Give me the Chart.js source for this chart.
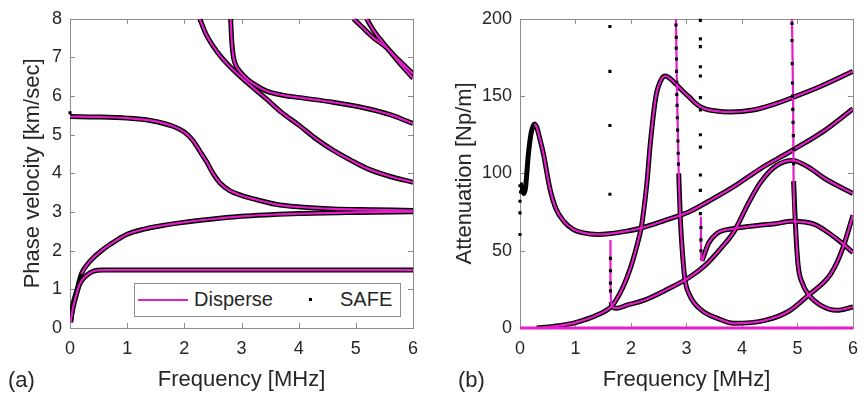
<!DOCTYPE html>
<html>
<head>
<meta charset="utf-8">
<script src="https://cdn.jsdelivr.net/npm/chart.js@4.4.1/dist/chart.umd.min.js"></script>
<style>
  body { margin: 0; background: #fff; width: 868px; height: 397px; position: relative; overflow: hidden;
         font-family: 'Liberation Sans', Arial, sans-serif; color: #262626; }
  canvas { position: absolute; top: 0; }
  #chartA { left: 0; }
  #chartB { left: 434px; }
  .tag { position: absolute; top: 367px; font-size: 22px; line-height: 26px; z-index: 2; }
  #legendA { position: absolute; left: 134px; top: 283px; width: 265px; height: 32px;
             border: 1px solid #8c8c8c; background: #fff; z-index: 2; }
  #legendA span { position: absolute; }
  .lg-text { font-size: 20px; line-height: 24px; top: 3px; }
</style>
</head>
<body>
<canvas id="chartA" width="434" height="397"></canvas>
<canvas id="chartB" width="434" height="397"></canvas>
<div class="tag" style="left:8px">(a)</div>
<div class="tag" style="left:458px">(b)</div>
<div id="legendA">
  <span style="left:3px; top:15px; width:50px; height:2px; background:#e41ec8;"></span>
  <span class="lg-text" style="left:59px;">Disperse</span>
  <span style="left:174px; top:14px; width:3px; height:3px; background:#000;"></span>
  <span class="lg-text" style="left:205px;">SAFE</span>
</div>
<script>
// ---- (a) phase velocity [km/sec] vs frequency [MHz]
const velA = [[0.01,0.15],[0.05,0.5],[0.09,0.74],[0.17,1.14],[0.29,1.36],[0.41,1.47],[0.58,1.5],[6,1.5]];
const velB = [[0.01,0.15],[0.05,0.6],[0.12,0.97],[0.2,1.4],[0.3,1.64],[0.41,1.82],[0.55,2.0],[0.7,2.16],[0.99,2.42],
              [1.3,2.56],[1.57,2.64],[1.92,2.72],[2.5,2.82],[3.0,2.89],[3.5,2.93],[4.0,2.96],[5.0,2.99],[6.0,3.01]];
const velC = [[0,5.47],[0.5,5.46],[1.0,5.43],[1.4,5.37],[1.8,5.22],[2.0,5.07],[2.15,4.85],[2.27,4.58],[2.39,4.3],
              [2.51,3.98],[2.62,3.76],[2.8,3.55],[3.0,3.43],[3.21,3.34],[3.6,3.2],[4.02,3.13],[4.6,3.08],[5.3,3.06],[6,3.04]];
const velD = [[2.27,8.0],[2.38,7.6],[2.5,7.3],[2.65,7.0],[2.8,6.76],[3.0,6.48],[3.2,6.22],[3.44,5.92],[3.7,5.58],
              [4.02,5.23],[4.3,4.9],[4.6,4.6],[4.9,4.35],[5.19,4.13],[5.6,3.92],[6,3.77]];
const velE = [[2.81,8.0],[2.83,7.4],[2.86,7.0],[2.9,6.8],[2.97,6.64],[3.1,6.44],[3.2,6.33],[3.44,6.13],[3.7,6.03],
              [4.02,5.96],[4.6,5.84],[5.19,5.68],[5.6,5.52],[6,5.29]];
const velF = [[4.96,8.0],[5.1,7.8],[5.3,7.52],[5.53,7.26],[5.75,6.93],[6,6.58]];
const velG = [[5.19,8.0],[5.3,7.72],[5.42,7.48],[5.53,7.28],[5.75,6.88],[6,6.46]];
const velDots = [[0,5.57]];

// ---- (b) attenuation [Np/m] vs frequency [MHz]
const attZero = [[0,0],[6,0]];
const att1 = [[0,94],[0.03,90],[0.07,87],[0.1,91],[0.15,112],[0.2,126],[0.26,132],[0.3,130],[0.36,122],[0.42,113],
              [0.54,90],[0.65,77],[0.79,69],[0.95,64],[1.14,61.5],[1.4,60.5],[1.6,60.9],[1.9,62.5],[2.19,64.7],
              [2.6,69.5],[3.06,75.4],[3.4,82],[3.85,91.4],[4.33,103],[4.9,114.8],[5.5,128],[6,141.8]];
const att2 = [[0.3,0],[0.6,1],[1.0,3.5],[1.4,8.5],[1.66,14.5],[1.85,26],[2.01,41],[2.12,55],[2.19,66],[2.25,82],
              [2.29,95],[2.35,120],[2.45,150],[2.55,161],[2.62,163],[2.7,161.5],[2.83,157],[2.97,152],[3.06,149],
              [3.15,145.8],[3.24,143.3],[3.35,141.6],[3.5,140.5],[3.79,139.7],[4.2,141],[4.6,145],[4.9,148.9],
              [5.4,156],[6,166]];
const att3 = [[1.63,57],[1.63,30],[1.64,17],[1.67,13.5],[1.75,12.8],[1.9,14.5],[2.24,18],[2.6,24],[3.06,33],
              [3.35,41],[3.63,52],[3.85,62],[4.12,81],[4.33,94],[4.62,105],[4.91,108.4],[5.2,104],[5.49,96.7],[6,87]];
const att4 = [[2.81,200],[2.83,150],[2.86,100],[2.89,70],[2.92,52],[2.97,32],[3.06,21],[3.27,11.5],[3.56,6.2],
              [3.85,3],[4.43,5.1],[4.85,11],[5.19,21],[5.6,35],[5.8,50],[6,73]];
const att5 = [[3.26,72],[3.26,55],[3.265,46],[3.28,43.5],[3.32,47.5],[3.4,55],[3.56,61.5],[3.8,64],[4.2,66],
              [4.6,67.5],[4.9,69],[5.31,67],[5.6,60.5],[5.8,55],[6,48.8]];
const att6 = [[4.9,200],[4.92,150],[4.93,95],[4.96,69],[5.01,41],[5.1,28],[5.19,22],[5.42,14.7],[5.71,11.5],[6,13.6]];
const attDots = [[0,82],[0,74.5],[0,60.5],[0,92],[0.01,88],
                 [1.62,195],[1.62,166],[1.62,131],[1.62,86.5],[1.63,45],[1.63,37],[1.63,29],[1.63,24],
                 [3.25,199],[3.25,187],[3.25,182],[3.25,169],[3.25,163],[3.25,149],[3.25,141],[3.25,125],
                 [3.25,117],[3.25,99],[3.25,89],[3.25,74],[3.26,65],[3.26,57],[3.26,50],
                 [2.81,196],[2.815,188],[2.815,181],[2.82,174],[2.82,166],[2.825,159],[2.825,151],[2.83,144],
                 [2.835,136],[2.84,128],[2.845,121],[2.85,113],[2.855,106],
                 [4.9,197],[4.9,186],[4.905,171],[4.91,158.5],[4.91,150],[4.915,141.4],[4.92,133],
                 [4.925,124.4],[4.93,115.8],[4.93,106.3]];

const MAGENTA = '#e41ec8';
const FONT = "'Liberation Sans', Arial, sans-serif";

function disperse(data) {
    return { data: data, showLine: true, borderColor: MAGENTA, borderWidth: 2.2, pointRadius: 0,
             cubicInterpolationMode: 'monotone', order: 1 };
}
function safeLine(data) {
    return { data: data, showLine: true, borderColor: '#000', borderWidth: 5, pointRadius: 0,
             cubicInterpolationMode: 'monotone', order: 2 };
}
function safeDots(data) {
    return { data: data, showLine: false, pointStyle: 'rect', pointRadius: 2.2, pointBackgroundColor: '#000',
             pointBorderWidth: 0, order: 0, clip: 4 };
}

// MATLAB-like box with inward ticks
const boxTicks = {
    id: 'boxTicks',
    beforeDatasetsDraw(chart) {
        const { ctx, chartArea: a, scales: { x, y } } = chart;
        ctx.save();
        ctx.strokeStyle = '#8c8c8c';
        ctx.lineWidth = 1;
        ctx.strokeRect(Math.round(a.left) + 0.5, Math.round(a.top) + 0.5, Math.round(a.right - a.left), Math.round(a.bottom - a.top));
        ctx.beginPath();
        x.ticks.forEach(t => {
            const px = Math.round(x.getPixelForValue(t.value)) + 0.5;
            ctx.moveTo(px, a.bottom); ctx.lineTo(px, a.bottom - 5);
            ctx.moveTo(px, a.top); ctx.lineTo(px, a.top + 5);
        });
        y.ticks.forEach(t => {
            const py = Math.round(y.getPixelForValue(t.value)) + 0.5;
            ctx.moveTo(a.left, py); ctx.lineTo(a.left + 5, py);
            ctx.moveTo(a.right, py); ctx.lineTo(a.right - 5, py);
        });
        ctx.stroke();
        ctx.restore();
    }
};

function makeOptions(yMax, yStep, yTitle, yWidth, padRight, titlePad) {
    return {
        responsive: false,
        animation: false,
        layout: { padding: { top: 15, right: padRight, left: 0, bottom: 0 } },
        plugins: { legend: { display: false }, tooltip: { enabled: false } },
        scales: {
            x: {
                type: 'linear', min: 0, max: 6,
                border: { display: false },
                grid: { display: false, drawTicks: false },
                ticks: { stepSize: 1, padding: 10, color: '#262626', maxRotation: 0, autoSkip: false,
                         font: { size: 18, family: FONT } },
                title: { display: true, text: 'Frequency [MHz]', color: '#262626',
                         font: { size: 22, family: FONT }, padding: { top: 0, bottom: 4 } },
                afterFit: s => { s.height = 69; }
            },
            y: {
                type: 'linear', min: 0, max: yMax,
                border: { display: false },
                grid: { display: false, drawTicks: false },
                ticks: { stepSize: yStep, padding: 8, color: '#262626', font: { size: 18, family: FONT } },
                title: { display: true, text: yTitle, color: '#262626',
                         font: { size: 22, family: FONT }, padding: { top: titlePad, bottom: 0 } },
                afterFit: s => { s.width = yWidth; }
            }
        }
    };
}

new Chart(document.getElementById('chartA'), {
    type: 'scatter',
    data: {
        datasets: [
            safeLine(velA), safeLine(velB), safeLine(velC), safeLine(velD), safeLine(velE), safeLine(velF), safeLine(velG),
            disperse(velA), disperse(velB.slice(3)), disperse(velC), disperse(velD), disperse(velE), disperse(velF), disperse(velG),
            safeDots(velDots)
        ]
    },
    options: makeOptions(8, 1, 'Phase velocity [km/sec]', 70, 21, 20),
    plugins: [boxTicks]
});

const zeroLine = disperse(attZero);
zeroLine.borderWidth = 3;
zeroLine.clip = 3;

new Chart(document.getElementById('chartB'), {
    type: 'scatter',
    data: {
        datasets: [
            safeLine(att1), safeLine(att2), safeLine(att3.slice(2)), safeLine(att4.slice(2)),
            safeLine(att5.slice(3)), safeLine(att6.slice(2)),
            zeroLine, disperse(att1.slice(6)), disperse(att2), disperse(att3), disperse(att4),
            disperse(att5), disperse(att6),
            safeDots(attDots)
        ]
    },
    options: makeOptions(200, 50, 'Attenuation [Np/m]', 86, 5, 18),
    plugins: [boxTicks]
});
</script>
</body>
</html>
